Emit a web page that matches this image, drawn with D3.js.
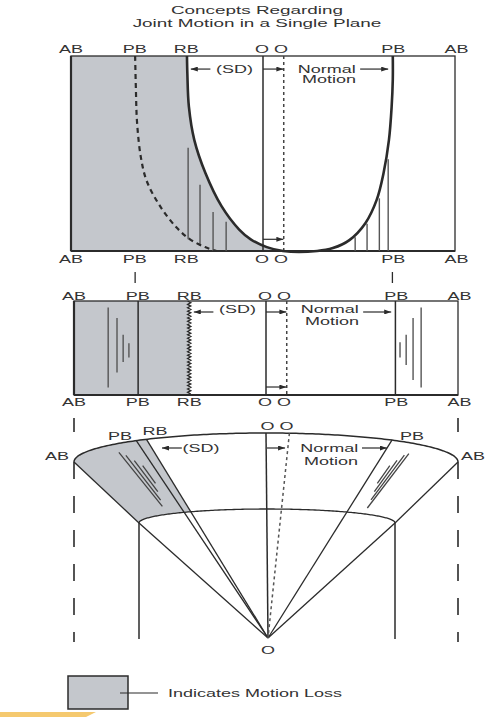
<!DOCTYPE html>
<html>
<head>
<meta charset="utf-8">
<script src="https://cdn.jsdelivr.net/npm/d3@7"></script>
<style>
  body { margin: 0; background: #fff; }
  text { font-family: "Liberation Sans", Arial, sans-serif; fill: #333; }
</style>
</head>
<body>
<div id="chart"></div>
<script>

// ---- data ----
var titleLines = ['Concepts Regarding', 'Joint Motion in a Single Plane'];
var boundLabels = ['AB', 'PB', 'RB', 'O O', 'PB', 'AB'];
var boundLabelPos = [0, 16.6, 30, 52.2, 83.9, 100.4];

// positions along the range of motion (0 = AB, 100 = other AB)
var abPos = [0, 100];
var pbPos = [16.7, 83.7];
var rbPos = 30;
var oPos = 50;
var oPrimePos = 55.4;

// top panel curves, [position, depth] (depth 0 = top, 1 = bottom)
var rbCurve = [[30.2, 0], [30.3, 0.09], [30.7, 0.26], [32.1, 0.43], [35, 0.6], [39.2, 0.77],
               [43.8, 0.89], [46.8, 0.94], [51, 0.98], [55.2, 1]];
var normalCurve = [[55.2, 1], [64.1, 1], [68.2, 0.985], [72.5, 0.944], [76.7, 0.856], [79.6, 0.738],
                   [81.4, 0.6], [82.8, 0.43], [83.5, 0.26], [83.8, 0.12], [83.8, 0]];
var pbCurve = [[16.7, 0], [16.9, 0.17], [17.2, 0.34], [18.2, 0.52], [19.7, 0.64], [23.2, 0.77],
               [27.5, 0.88], [31, 0.94], [34.9, 0.98], [37.9, 1]];

// hatch strokes [position, depth from, depth to]
var topHatch = [[30.5, 0.47, 0.94], [33.6, 0.66, 0.97], [37, 0.8, 1], [40.4, 0.85, 1],
                [74, 0.93, 1], [77.1, 0.86, 1], [80.3, 0.73, 1], [82.6, 0.53, 1]];
var midHatch = [[8.9, 0.07, 0.92], [11.2, 0.18, 0.76], [12.8, 0.36, 0.65], [14.3, 0.45, 0.6],
                [84.9, 0.44, 0.6], [86.5, 0.36, 0.68], [88.3, 0.18, 0.84], [90.4, 0.07, 0.92]];

// notes on the straight panels: SD arrow, O arrow, normal arrow (from, to) and text spots
var noteText = ['(SD)', 'Normal', 'Motion'];
var sdArrow = [36.3, 31.2];
var oArrow = [50, 55.3];
var normalArrow = [75.3, 82.6];
var notePos = [42.6, 66.6, 67.2];

// fan: angles along the rim in degrees (-90 = AB left, 90 = AB right)
var fanAb = [-90, 90];
var fanPb = [-42.5, 41];
var fanRb = -38.5;
var fanO = 0;
var fanOPrime = 7;
var fanLabelAngles = [-90, -49.5, -35.3, 3.3, 49.5, 90];
var fanSdArrow = [-26, -32.8];
var fanOArrow = [0.3, 5.7];
var fanNormalArrow = [30, 39];
var fanNoteAngles = [-19.8, 19.2, 19.8];
// fan hatch [angle, radius from, radius to] (radius 0 = apex, 1 = rim)
var fanHatch = [[-53, 0.68, 0.96], [-51, 0.71, 0.94], [-49, 0.75, 0.91], [-47, 0.79, 0.88],
                [47, 0.79, 0.88], [48.5, 0.75, 0.91], [50, 0.71, 0.94], [51.5, 0.67, 0.95]];

var legendText = 'Indicates Motion Loss';

// ---- layout ----
var width = 487, height = 717;
var ink = '#2b2b2b', shade = '#c4c7cc';
var stretch = 1.8;

var svg = d3.select('#chart').append('svg')
    .attr('width', width)
    .attr('height', height);

var defs = svg.append('defs');
defs.append('marker')
    .attr('id', 'head')
    .attr('viewBox', '0 0 10 10')
    .attr('refX', 10).attr('refY', 5)
    .attr('markerWidth', 7).attr('markerHeight', 5)
    .attr('markerUnits', 'userSpaceOnUse')
    .attr('preserveAspectRatio', 'none')
    .attr('orient', 'auto')
    .append('path').attr('d', 'M0,0L10,5L0,10Z').attr('fill', ink);

// text in the scan is wide, so stretch it
function label(g, x, y, s, size, anchor) {
    return g.append('text')
        .attr('transform', 'translate(' + x + ',' + y + ') scale(' + stretch + ',1)')
        .attr('text-anchor', anchor || 'middle')
        .style('font-size', (size || 10) + 'px')
        .text(s);
}

function seg(g, x1, y1, x2, y2, w, dash, col) {
    return g.append('line')
        .attr('x1', x1).attr('y1', y1).attr('x2', x2).attr('y2', y2)
        .attr('stroke', col || ink)
        .attr('stroke-width', w || 1.3)
        .attr('stroke-dasharray', dash || null);
}

function arrow(g, x1, x2, y) {
    seg(g, x1, y, x2, y, 1.2).attr('marker-end', 'url(#head)');
}

// title
var titleY = [13.5, 27];
titleLines.forEach(function (s, i) { label(svg, 257, titleY[i], s, 10.5); });

// ---- top panel ----
var xTop = d3.scaleLinear().domain([0, 100]).range([71, 455]);
var yTop = d3.scaleLinear().domain([0, 1]).range([56, 251]);
var topG = svg.append('g');

topG.append('path').datum(rbCurve)
    .attr('d', d3.area().curve(d3.curveCatmullRom)
        .y(function (d) { return yTop(d[1]); })
        .x0(xTop(abPos[0]))
        .x1(function (d) { return xTop(d[0]); }))
    .attr('fill', shade);

topG.append('rect')
    .attr('x', xTop(0)).attr('y', yTop(0))
    .attr('width', xTop(100) - xTop(0)).attr('height', yTop(1) - yTop(0))
    .attr('fill', 'none').attr('stroke', ink).attr('stroke-width', 1.3);
seg(topG, xTop(0), yTop(0), xTop(0), yTop(1), 2.2);
seg(topG, xTop(0), yTop(1), xTop(100), yTop(1), 2.2);

seg(topG, xTop(oPos), yTop(0), xTop(oPos), yTop(1), 1.5);
seg(topG, xTop(oPrimePos), yTop(0), xTop(oPrimePos), yTop(1), 1.5, '3,3', '#444');

topHatch.forEach(function (h) {
    seg(topG, xTop(h[0]), yTop(h[1]), xTop(h[0]), yTop(h[2]), 1.4, null, '#555');
});

var curveLine = d3.line().curve(d3.curveCatmullRom)
    .x(function (d) { return xTop(d[0]); })
    .y(function (d) { return yTop(d[1]); });
topG.append('path').datum(rbCurve.concat(normalCurve.slice(1)))
    .attr('d', curveLine).attr('fill', 'none').attr('stroke', ink).attr('stroke-width', 2.6);
topG.append('path').datum(pbCurve)
    .attr('d', curveLine).attr('fill', 'none').attr('stroke', ink)
    .attr('stroke-width', 2.2).attr('stroke-dasharray', '5,4');

function notes(g, xs, ys, arrowD, textD, motionD, bottomD) {
    arrow(g, xs(sdArrow[0]), xs(sdArrow[1]), ys(arrowD));
    label(g, xs(notePos[0]), ys(textD), noteText[0]);
    arrow(g, xs(oArrow[0]), xs(oArrow[1]), ys(arrowD));
    label(g, xs(notePos[1]), ys(textD), noteText[1]);
    arrow(g, xs(normalArrow[0]), xs(normalArrow[1]), ys(arrowD));
    label(g, xs(notePos[2]), ys(motionD), noteText[2]);
    arrow(g, xs(oArrow[0]), xs(oArrow[1]), ys(bottomD));
}
notes(topG, xTop, yTop, 0.067, 0.087, 0.138, 0.94);

boundLabels.forEach(function (s, i) {
    label(topG, xTop(boundLabelPos[i]), 53, s);
    label(topG, xTop(boundLabelPos[i]), 263, s);
});

// ---- middle panel ----
var xMid = d3.scaleLinear().domain([0, 100]).range([74, 458]);
var yMid = d3.scaleLinear().domain([0, 1]).range([301, 395]);
var mid = svg.append('g');

pbPos.forEach(function (p) { seg(mid, xTop(p), 272, xTop(p), 283, 1.3); });

mid.append('rect')
    .attr('x', xMid(0)).attr('y', yMid(0))
    .attr('width', xMid(rbPos) - xMid(0)).attr('height', yMid(1) - yMid(0))
    .attr('fill', shade);
mid.append('rect')
    .attr('x', xMid(0)).attr('y', yMid(0))
    .attr('width', xMid(100) - xMid(0)).attr('height', yMid(1) - yMid(0))
    .attr('fill', 'none').attr('stroke', ink).attr('stroke-width', 1.3);
seg(mid, xMid(0), yMid(0), xMid(0), yMid(1), 2.2);
seg(mid, xMid(0), yMid(1), xMid(100), yMid(1), 2.2);

pbPos.forEach(function (p) { seg(mid, xMid(p), yMid(0), xMid(p), yMid(1), 1.5); });
seg(mid, xMid(oPos), yMid(0), xMid(oPos), yMid(1), 1.5);
seg(mid, xMid(oPrimePos), yMid(0), xMid(oPrimePos), yMid(1), 1.5, '3,3', '#444');

// saw edge at RB
var teeth = d3.range(0, 1.0001, 0.018).map(function (d, i) {
    return [xMid(rbPos) + (i % 2 ? 1.6 : -1.6), yMid(d)];
});
mid.append('path').attr('d', d3.line()(teeth))
    .attr('fill', 'none').attr('stroke', ink).attr('stroke-width', 1.3);

midHatch.forEach(function (h) {
    seg(mid, xMid(h[0]), yMid(h[1]), xMid(h[0]), yMid(h[2]), 1.4, null, '#555');
});

notes(mid, xMid, yMid, 0.117, 0.13, 0.255, 0.915);

boundLabels.forEach(function (s, i) {
    label(mid, xMid(boundLabelPos[i]), 299.5, s);
    label(mid, xMid(boundLabelPos[i]), 406, s);
});

// ---- fan panel ----
var fan = svg.append('g');
var apex = [268, 638];
var fx = d3.scaleLinear().domain([-1, 1]).range([74, 458]);   // rim ellipse, x
var fy = d3.scaleLinear().domain([0, 1]).range([462, 433]);   // rim ellipse, y
var ix = d3.scaleLinear().domain([-1, 1]).range([139, 395]);  // inner arc, x
var iy = d3.scaleLinear().domain([0, 1]).range([523, 509]);   // inner arc, y
var rad = Math.PI / 180;

function outer(t) { return [fx(Math.sin(t * rad)), fy(Math.cos(t * rad))]; }
function inner(t) { return [ix(Math.sin(t * rad)), iy(Math.cos(t * rad))]; }
function onRay(t, r) {
    var p = outer(t);
    return [apex[0] + r * (p[0] - apex[0]), apex[1] + r * (p[1] - apex[1])];
}
// where a ray from the apex crosses the upper half of the inner arc
function innerHit(t) {
    var p = outer(t), a = (ix(1) - ix(-1)) / 2, b = iy(0) - iy(1);
    var cx = ix(0), cy = iy(0);
    var dx = p[0] - apex[0], dy = p[1] - apex[1], ox = apex[0] - cx, oy = apex[1] - cy;
    var qa = dx * dx / (a * a) + dy * dy / (b * b);
    var qb = 2 * (ox * dx / (a * a) + oy * dy / (b * b));
    var qc = ox * ox / (a * a) + oy * oy / (b * b) - 1;
    var r = (-qb + Math.sqrt(Math.max(0, qb * qb - 4 * qa * qc))) / (2 * qa);
    var q = [apex[0] + r * dx, apex[1] + r * dy];
    return { p: q, s: Math.atan2((q[0] - cx) / a, (cy - q[1]) / b) / rad };
}

// shaded loss
var hit = innerHit(fanRb);
var lossPts = d3.range(fanAb[0], fanRb, 1).map(outer)
    .concat([outer(fanRb), hit.p])
    .concat(d3.range(hit.s, fanAb[0], -1).map(inner))
    .concat([inner(fanAb[0])]);
fan.append('path').attr('d', d3.line()(lossPts) + 'Z').attr('fill', shade);

// AB dashed uprights
fanAb.forEach(function (t) {
    var p = outer(t);
    seg(fan, p[0], 418, p[0], 432, 1.6);
    seg(fan, p[0], p[1], p[0], 642, 1.6, '17,17');
});

// rim and inner arc
fan.append('path').attr('d', d3.line()(d3.range(-90, 90.5, 1).map(outer)))
    .attr('fill', 'none').attr('stroke', ink).attr('stroke-width', 1.5);
fan.append('path').attr('d', d3.line()(d3.range(-90, 90.5, 1).map(inner)))
    .attr('fill', 'none').attr('stroke', ink).attr('stroke-width', 1.3);

fanAb.forEach(function (t) {
    var p = outer(t), q = inner(t);
    seg(fan, p[0], p[1], q[0], q[1], 1.3);
    seg(fan, q[0], q[1], apex[0], apex[1], 1.3);
    seg(fan, q[0], q[1], q[0], 639, 1.5);
});

fanPb.concat([fanRb]).forEach(function (t) {
    var p = outer(t);
    seg(fan, p[0], p[1], apex[0], apex[1], 1.3);
});
var po = outer(fanO), pp = outer(fanOPrime);
seg(fan, po[0], po[1], apex[0], apex[1], 1.5);
seg(fan, pp[0], pp[1], apex[0], apex[1], 1.5, '3,3', '#555');

fanHatch.forEach(function (h) {
    var a = onRay(h[0], h[1]), b = onRay(h[0], h[2]);
    seg(fan, a[0], a[1], b[0], b[1], 1.3, null, '#444');
});

function fanX(t) { return fx(Math.sin(t * rad)); }
arrow(fan, fanX(fanSdArrow[0]), fanX(fanSdArrow[1]), 448);
label(fan, fanX(fanNoteAngles[0]), 452, noteText[0]);
arrow(fan, fanX(fanOArrow[0]), fanX(fanOArrow[1]), 448);
label(fan, fanX(fanNoteAngles[1]), 452, noteText[1]);
arrow(fan, fanX(fanNormalArrow[0]), fanX(fanNormalArrow[1]), 448);
label(fan, fanX(fanNoteAngles[2]), 465, noteText[2]);

var fanLabelShift = [-17, 0, 0, 0, 0, 15];
boundLabels.forEach(function (s, i) {
    var p = outer(fanLabelAngles[i]);
    label(fan, p[0] + fanLabelShift[i], p[1] - (i === 0 || i === 5 ? 2 : 3), s);
});
label(fan, apex[0], 654, 'O');

// ---- legend ----
var legend = svg.append('g');
legend.append('rect')
    .attr('x', 68).attr('y', 676).attr('width', 60).attr('height', 33)
    .attr('fill', shade).attr('stroke', ink).attr('stroke-width', 1.5);
seg(legend, 120, 693, 158, 693, 1.2);
label(legend, 168, 697, legendText, 10, 'start');

// scan artefact: a sticky note corner at the bottom
svg.append('path')
    .attr('d', d3.line()([[0, 712], [96, 712], [86, 717], [0, 717]]) + 'Z')
    .attr('fill', '#f5c96f');

</script>
</body>
</html>
